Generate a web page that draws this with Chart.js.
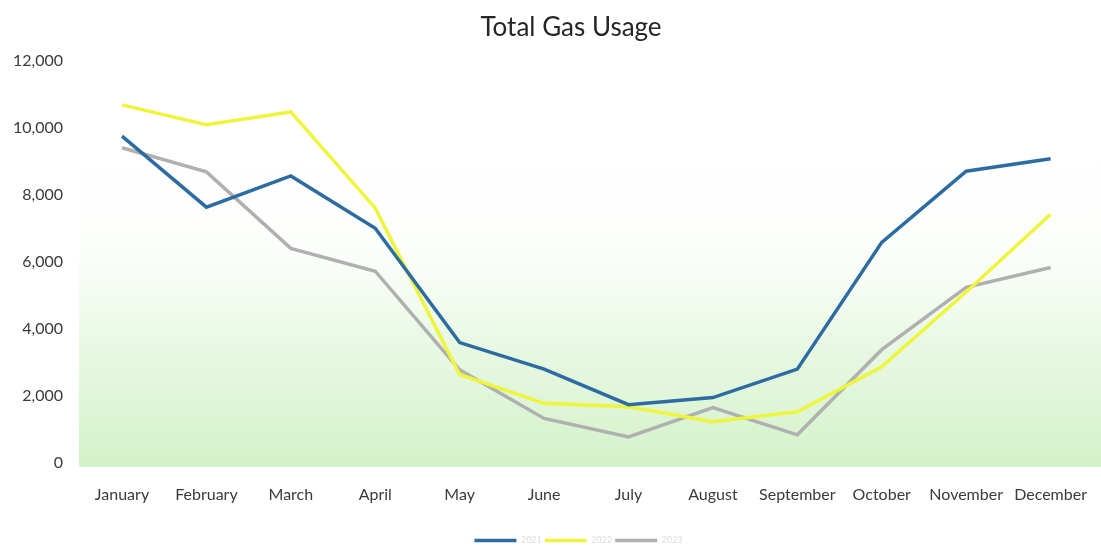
<!DOCTYPE html>
<html>
<head>
<meta charset="utf-8">
<script src="https://cdn.jsdelivr.net/npm/chart.js@4"></script>
<style>
  html, body { margin: 0; padding: 0; background: #ffffff; }
  #wrap { width: 1101px; height: 546px; }
</style>
</head>
<body>
<div id="wrap"><canvas id="c" width="1101" height="546"></canvas></div>
<script>
const chartTitle = "Total Gas Usage";
const months = ["January","February","March","April","May","June","July","August","September","October","November","December"];
const seriesNames = ["2021","2022","2023"];
const seriesA = [9750, 7630, 8560, 7000, 3590, 2800, 1740, 1950, 2800, 6580, 8700, 9070];
const seriesB = [10680, 10090, 10470, 7600, 2640, 1780, 1680, 1230, 1530, 2870, 5100, 7420];
const seriesC = [9400, 8680, 6400, 5720, 2780, 1330, 780, 1650, 840, 3380, 5240, 5830];
const yTicks = [0, 2000, 4000, 6000, 8000, 10000, 12000];

const FONT = "Lato, 'Open Sans', sans-serif";

const bgPlugin = {
  id: 'bg',
  beforeDatasetsDraw(chart) {
    const {ctx, chartArea} = chart;
    const left = chartArea.left - 43;
    const right = chart.width;
    const top = chartArea.top;
    const bottom = chartArea.bottom + 4;
    const g = ctx.createLinearGradient(0, top, 0, bottom);
    g.addColorStop(0, 'rgba(255,255,255,0)');
    g.addColorStop(0.45, 'rgba(245,252,243,0.3)');
    g.addColorStop(0.68, 'rgba(228,247,222,0.8)');
    g.addColorStop(1, 'rgba(210,242,200,1)');
    ctx.save();
    ctx.fillStyle = g;
    ctx.fillRect(left, top, right - left, bottom - top);
    ctx.restore();
  }
};

const legendShift = {
  id: 'legendShift',
  afterLayout(chart) {
    const lg = chart.legend;
    if (lg) { lg.top += 9; lg.bottom += 9; lg.left += 47; lg.right += 47; }
  }
};

const titlePlugin = {
  id: 'customTitle',
  afterDraw(chart) {
    const {ctx} = chart;
    ctx.save();
    ctx.font = "26px " + FONT;
    ctx.fillStyle = '#262626';
    ctx.textAlign = 'center';
    ctx.textBaseline = 'middle';
    ctx.fillText(chartTitle, 571, 28);
    ctx.restore();
  }
};

new Chart(document.getElementById('c'), {
  type: 'line',
  data: {
    labels: months,
    datasets: [
      { label: seriesNames[0], data: seriesA, borderColor: '#2c6ca2', backgroundColor: '#2c6ca2', borderWidth: 3.5 },
      { label: seriesNames[1], data: seriesB, borderColor: '#eef53c', backgroundColor: '#eef53c', borderWidth: 3.5 },
      { label: seriesNames[2], data: seriesC, borderColor: '#b0b0b0', backgroundColor: '#b0b0b0', borderWidth: 3.5 }
    ]
  },
  options: {
    responsive: false,
    animation: false,
    layout: { padding: { left: 0, right: 38, top: 58, bottom: 0 } },
    elements: {
      line: { tension: 0 },
      point: { radius: 0, hoverRadius: 0 }
    },
    plugins: {
      title: { display: false },
      tooltip: { enabled: false },
      legend: {
        display: true,
        position: 'bottom',
        labels: {
          usePointStyle: true,
          pointStyle: 'line',
          pointStyleWidth: 42,
          boxHeight: 6,
          padding: 3,
          color: '#dcdcdc',
          font: { family: FONT, size: 9 }
        }
      }
    },
    scales: {
      x: {
        offset: false,
        afterFit(axis) { axis.height = 61; },
        grid: { display: false },
        border: { display: false },
        ticks: {
          color: '#3a3a3a',
          font: { family: FONT, size: 16 },
          padding: 14,
          maxRotation: 0,
          autoSkip: false
        }
      },
      y: {
        min: 0,
        max: 12000,
        afterBuildTicks(axis) { axis.ticks = yTicks.map(v => ({ value: v })); },
        afterFit(axis) { axis.width = 122; },
        grid: { display: false },
        border: { display: false },
        ticks: {
          color: '#3a3a3a',
          font: { family: FONT, size: 16 },
          padding: 51,
          callback: v => v.toLocaleString('en-US')
        }
      }
    }
  },
  plugins: [bgPlugin, legendShift, titlePlugin]
});
</script>
</body>
</html>
